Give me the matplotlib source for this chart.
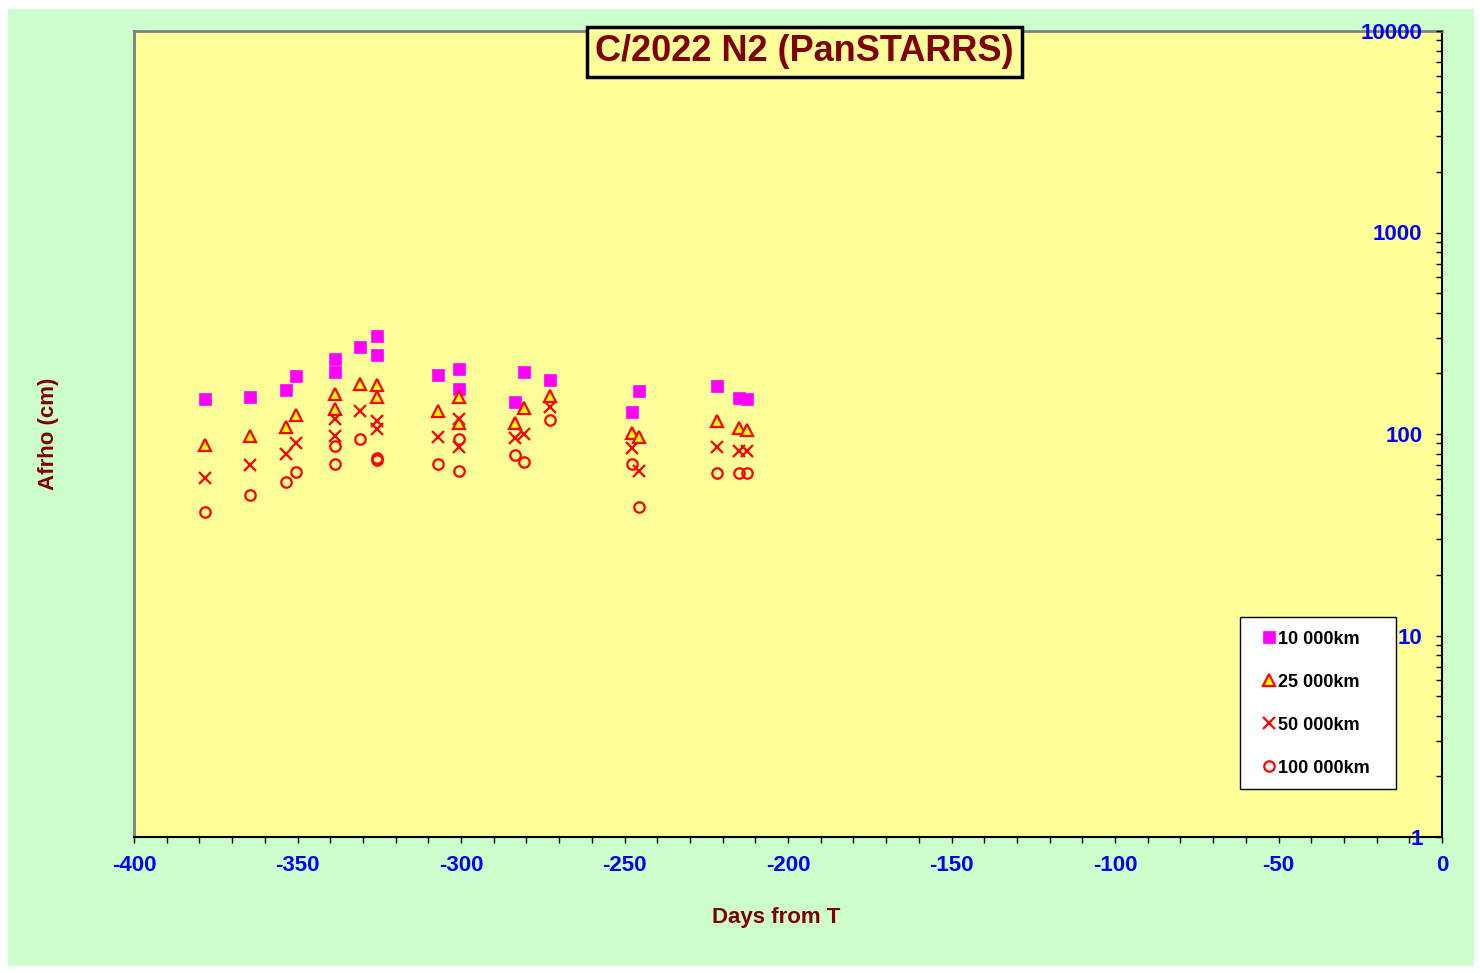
import matplotlib

matplotlib.use("Agg")
import matplotlib.pyplot as plt
from matplotlib.patches import Rectangle
from matplotlib.ticker import FixedLocator, FuncFormatter, LogLocator, NullFormatter

plt.rcParams["font.family"] = ["Liberation Sans", "DejaVu Sans"]
plt.rcParams["axes.unicode_minus"] = False

# observation epochs (days from perihelion T)
days = [-378.3, -364.5, -353.5, -350.5, -338.5, -338.5, -330.9, -325.7, -325.7, -307.0,
        -300.6, -300.6, -283.5, -280.7, -272.8, -247.7, -245.6, -221.7, -215.0, -212.5]

# Afrho (cm) at each aperture radius
afrho_10k = [149, 153, 165, 194, 235, 203, 270, 306, 247, 196,
             210, 167, 144, 203, 185, 128.5, 163, 173, 151, 149]
afrho_25k = [88, 98, 108, 124, 158, 133, 177, 175, 153, 130,
             153, 113, 113, 135, 155, 101, 97, 116, 107, 105]
afrho_50k = [60.5, 70, 80, 90, 119, 98, 130, 116, 106, 97,
             119, 86, 95.5, 100, 136, 85, 65.5, 86, 82, 82]
afrho_100k = [41, 50, 58, 65, 87, 71, 94, 76, 74, 71,
              94, 65.5, 79, 73, 117, 71, 43.5, 64, 64, 64]

series_labels = ["10 000km", "25 000km", "50 000km", "100 000km"]
x_ticks = [-400, -350, -300, -250, -200, -150, -100, -50, 0]
y_ticks = [1, 10, 100, 1000, 10000]

W, H = 1480, 973
fig = plt.figure(figsize=(W / 100, H / 100), dpi=100, facecolor="white")
fig.patches.append(Rectangle((8 / W, 1 - 966 / H), (1474 - 8) / W, (966 - 9) / H,
                             transform=fig.transFigure, facecolor="#CCFFCC",
                             edgecolor="none", zorder=-10))

ax = fig.add_axes([134 / W, 1 - 837 / H, (1442 - 134) / W, (837 - 31) / H])
ax.set_facecolor("#FFFF99")

ax.plot(days, afrho_10k, ls="none", marker="s", ms=9, mfc="#FF00FF", mec="#FF00FF",
        mew=0.5, label=series_labels[0])
ax.plot(days, afrho_25k, ls="none", marker="^", ms=9, mfc="#FFFF00", mec="#FF0000",
        mew=1.6, label=series_labels[1])
ax.plot(days, afrho_50k, ls="none", marker="x", ms=8.5, mec="#FF0000", mew=1.6,
        label=series_labels[2])
ax.plot(days, afrho_100k, ls="none", marker="o", ms=7.5, mfc="none", mec="#FF0000",
        mew=1.6, label=series_labels[3])

ax.set_yscale("log")
ax.set_xlim(-400, 0)
ax.set_ylim(1, 10000)

# x axis
ax.xaxis.set_major_locator(FixedLocator(x_ticks))
ax.xaxis.set_minor_locator(FixedLocator(range(-400, 1, 10)))
ax.tick_params(axis="x", which="both", direction="out", length=4, width=1,
               color="black", pad=9, labelsize=16, labelcolor="#0000FF")
for lbl in ax.get_xticklabels():
    lbl.set_fontweight("bold")

# y axis: ticks on the right spine, labels inside the plot
ax.yaxis.set_major_locator(FixedLocator(y_ticks))
ax.yaxis.set_major_formatter(FuncFormatter(lambda v, p: "%d" % v))
ax.yaxis.set_minor_locator(LogLocator(base=10, subs=range(2, 10)))
ax.yaxis.set_minor_formatter(NullFormatter())
ax.yaxis.set_ticks_position("right")
ax.tick_params(axis="y", which="both", direction="in", length=4, width=1,
               color="black", left=False, right=True, labelleft=False,
               labelright=True, pad=-14, labelsize=16, labelcolor="#0000FF")
for lbl in ax.get_yticklabels():
    lbl.set_fontweight("bold")
    lbl.set_horizontalalignment("right")
ax.yaxis.set_zorder(3)

for side in ["top", "left"]:
    ax.spines[side].set_color("#808080")
    ax.spines[side].set_linewidth(2)
for side in ["bottom", "right"]:
    ax.spines[side].set_color("black")
    ax.spines[side].set_linewidth(1.5)

ax.set_xlabel("Days from T", fontsize=16, fontweight="bold", color="#800000", labelpad=22)
ax.xaxis.label.set_x((776 - 134) / 1308)
ax.yaxis.set_label_position("left")
ax.set_ylabel("Afrho (cm)", fontsize=16, fontweight="bold", color="#800000", labelpad=54)

ax.text(0.5125, 0.974, "C/2022 N2 (PanSTARRS)", transform=ax.transAxes,
        ha="center", va="center", fontsize=26, fontweight="bold", color="#800000",
        bbox=dict(boxstyle="square,pad=0.22", facecolor="#FFFF99", edgecolor="black", lw=2.5))

# legend box drawn separately so its padding can match the original
ax.add_patch(Rectangle((0.8456, 0.0596), 0.1193, 0.2134, transform=ax.transAxes,
                       facecolor="white", edgecolor="black", lw=1, zorder=4))
leg = ax.legend(loc="center left", bbox_to_anchor=(0.8636, 0.1656), borderaxespad=0,
                borderpad=0, frameon=False, prop=dict(size=13, weight="bold"),
                labelspacing=1.44, handlelength=0.6, handletextpad=0.2)
leg.set_zorder(5)

fig.savefig("out.png", dpi=100, facecolor=fig.get_facecolor())
